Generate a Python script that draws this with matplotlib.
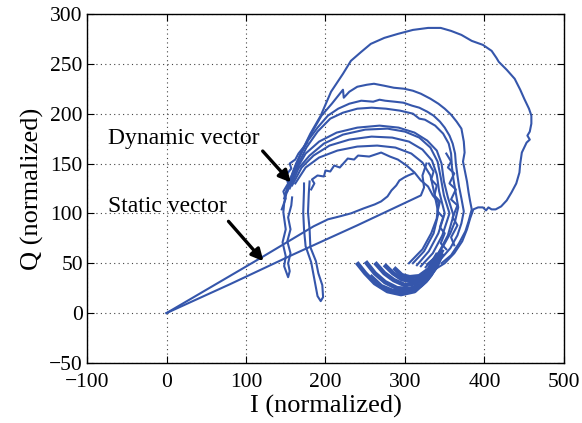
import matplotlib
matplotlib.use('Agg')
import matplotlib.pyplot as plt

# static vector: two straight-ish strokes from the origin
static_up = [(0, 0), (60, 28), (120, 56), (185, 87), (203, 94), (218, 97), (232, 100),
             (248, 105), (262, 109), (270, 112), (278, 117), (283, 123), (289, 128),
             (293, 133), (299, 136), (304, 138), (310, 140)]
static_down = [(0, 0), (80, 29), (160, 59), (240, 88), (320, 118), (324, 126), (322, 138), (327, 150)]

# dynamic vector loops (I, Q)
outer_loop = [(155, 128), (162, 145), (170, 162), (181, 180), (194, 198), (207, 222), (222, 240),
              (232, 253), (245, 262), (257, 270), (274, 276), (291, 280), (310, 284), (329, 286),
              (345, 286), (358, 283), (371, 279), (384, 273), (398, 269), (409, 263), (415, 256),
              (418, 252), (428, 244), (438, 235), (445, 224), (450, 215), (456, 205), (459, 198),
              (459, 190), (457, 182), (454, 178), (457, 174), (453, 171), (447, 161), (445, 150),
              (444, 141), (440, 130), (434, 121), (428, 113), (421, 107), (414, 104), (409, 104),
              (405, 106), (402, 103), (398, 106), (392, 106), (386, 104), (382, 95), (378, 84),
              (372, 72), (362, 60), (350, 50), (338, 44)]
loop_2 = [(150, 120), (156, 135), (163, 150), (172, 165), (182, 180), (195, 198), (208, 210),
          (216, 218), (222, 224), (223, 216), (230, 222), (240, 227), (252, 229), (261, 230),
          (274, 228), (286, 226), (299, 225), (310, 223), (320, 220), (332, 215), (342, 210),
          (350, 205), (358, 199), (365, 192), (371, 185), (374, 172), (375, 161), (373, 152),
          (375, 144), (378, 132), (380, 121), (382, 112), (384, 104), (380, 92), (376, 82),
          (368, 70), (358, 58), (346, 50)]
loop_3 = [(148, 115), (153, 128), (160, 143), (168, 158), (178, 173), (190, 186), (203, 198),
          (216, 205), (230, 210), (245, 213), (260, 212), (268, 214), (275, 213), (287, 212),
          (298, 211), (309, 208), (318, 206), (328, 202), (336, 198), (344, 192), (350, 186),
          (356, 178), (360, 170), (363, 160), (364, 150), (366, 138), (368, 127), (371, 115),
          (374, 102), (371, 90), (366, 78), (357, 65), (346, 55), (336, 48)]
loop_4 = [(150, 118), (157, 133), (165, 148), (176, 166), (190, 182), (206, 195), (222, 201),
          (240, 205), (258, 206), (276, 205), (294, 203), (310, 200), (318, 195), (325, 194),
          (338, 188), (348, 180), (355, 170), (358, 160), (359, 147), (361, 134), (364, 120),
          (367, 106), (363, 92), (357, 80), (348, 67), (338, 56), (328, 49)]
loop_5 = [(152, 122), (162, 142), (175, 160), (192, 172), (214, 181), (240, 186), (268, 188),
          (292, 186), (312, 181), (328, 173), (340, 163), (346, 150), (349, 132), (354, 116),
          (361, 98), (354, 78), (342, 60), (326, 46)]
loop_6 = [(155, 125), (166, 145), (180, 158), (198, 170), (222, 179), (250, 184), (278, 185),
          (300, 182), (318, 176), (332, 166), (341, 152), (345, 136), (349, 118), (356, 100),
          (347, 78), (335, 60), (320, 47)]
loop_7 = [(158, 128), (170, 146), (185, 158), (205, 168), (230, 174), (258, 177), (284, 176),
          (305, 172), (322, 164), (334, 153), (340, 139), (343, 122), (350, 100), (342, 80),
          (330, 62), (315, 48)]
loop_8 = [(162, 130), (175, 146), (192, 156), (215, 163), (240, 167), (265, 168), (288, 166),
          (308, 160), (322, 151), (332, 138), (337, 120), (342, 100), (336, 80), (324, 62),
          (310, 50)]
loop_9 = [(182, 124), (186, 130), (183, 134), (190, 138), (198, 137), (200, 143), (206, 142),
          (211, 148), (218, 146), (228, 155), (236, 154), (241, 158), (255, 157), (270, 161),
          (281, 157), (291, 154), (302, 148), (312, 141), (320, 133), (329, 127), (335, 118),
          (342, 111), (340, 95), (333, 80), (322, 64), (305, 50)]

# jittery strands in the left and right clusters
left_jitter = [(145, 104), (150, 115), (147, 122), (153, 130), (150, 138), (157, 145), (155, 150),
               (162, 154), (166, 160), (172, 166), (177, 171)]
right_jitter = [(330, 150), (336, 142), (333, 134), (340, 128), (337, 118), (344, 112), (341, 102),
                (348, 96), (344, 86), (350, 80), (345, 70), (352, 64)]
right_jitter_2 = [(352, 160), (358, 152), (354, 146), (362, 140), (356, 130), (364, 124),
                  (358, 114), (366, 108), (360, 96), (366, 88), (358, 76), (362, 68)]

# tails hanging under the left cluster
tail_left = [(150, 118), (148, 110), (147, 101), (150, 84), (146, 71), (150, 57), (148, 47),
             (153, 36), (155, 42), (153, 50), (156, 60), (152, 72), (156, 84), (153, 96),
             (157, 108), (158, 116)]
tail_right = [(173, 130), (173, 124), (172, 101), (173, 84), (175, 67), (182, 51), (186, 34),
              (190, 17), (194, 12), (197, 16), (196, 28), (191, 40), (188, 52), (181, 66),
              (180, 84), (178, 101), (179, 120), (180, 132)]

# crescent at the bottom
crescent_1 = [(241, 49), (250, 40), (262, 30), (278, 22), (295, 19), (312, 22), (326, 32),
              (338, 45), (346, 58)]
crescent_2 = [(252, 50), (262, 40), (275, 31), (290, 25), (305, 24), (320, 28), (332, 38),
              (342, 52)]
crescent_3 = [(264, 49), (274, 40), (286, 33), (300, 28), (314, 30), (328, 38), (338, 50),
              (346, 62)]
crescent_4 = [(276, 47), (285, 40), (296, 34), (308, 32), (320, 34), (332, 42), (342, 56)]
crescent_5 = [(288, 44), (296, 38), (306, 36), (318, 37), (330, 44), (340, 58)]
crescent_6 = [(258, 36), (270, 27), (285, 22), (300, 22), (315, 25), (328, 34), (340, 48)]

segments = [static_up, static_down, outer_loop, loop_2, loop_3, loop_4, loop_5, loop_6,
            loop_7, loop_8, loop_9, left_jitter, right_jitter, right_jitter_2, tail_left, tail_right]
crescent = [crescent_1, crescent_2, crescent_3, crescent_4, crescent_5, crescent_6]

blue = '#3556ab'
plt.rcParams['font.family'] = ['Liberation Serif', 'DejaVu Serif']

fig = plt.figure(figsize=(5.82, 4.23), dpi=100)
ax = fig.add_axes([0.1495, 0.142, 0.8195, 0.825])

for seg in segments:
    xs, ys = zip(*seg)
    ax.plot(xs, ys, color=blue, lw=1.5)
for seg in crescent:
    xs, ys = zip(*seg)
    ax.plot(xs, ys, color=blue, lw=3.2)

ax.set_xlim(-100, 500)
ax.set_ylim(-50, 300)
ax.set_xticks(range(-100, 501, 100))
ax.set_yticks(range(-50, 301, 50))
ax.grid(True, linestyle=(0, (1, 3)), color='#444444', lw=0.8)
ax.tick_params(direction='in', top=True, right=True, length=5, labelsize=15.5)
ax.tick_params(axis='x', pad=7)
ax.tick_params(axis='y', pad=3)
for sp in ax.spines.values():
    sp.set_linewidth(1.0)

ax.set_xlabel('I (normalized)', fontsize=19, labelpad=2)
ax.set_ylabel('Q (normalized)', fontsize=19, labelpad=4)

arrow = dict(arrowstyle='-|>,head_length=0.7,head_width=0.35', color='black', lw=2.4,
             shrinkA=0, shrinkB=0)
ax.text(-73, 175, 'Dynamic vector', fontsize=17, va='center', ha='left')
ax.annotate('', xy=(156.5, 131), xytext=(121, 162.5), arrowprops=arrow)
ax.text(-73, 107, 'Static vector', fontsize=17, va='center', ha='left')
ax.annotate('', xy=(122, 52), xytext=(78, 92), arrowprops=arrow)

fig.savefig('out.png', dpi=100)
